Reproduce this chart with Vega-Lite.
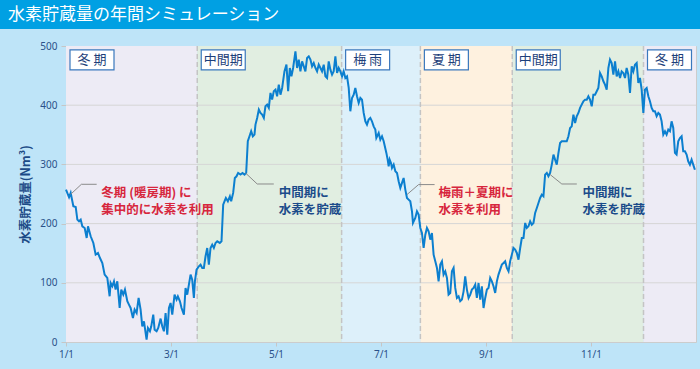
{
  "$schema": "https://vega.github.io/schema/vega-lite/v6.json",
  "background": "#BEE4F8",
  "padding": {"left": 0, "top": 0, "right": 0, "bottom": 9},
  "spacing": 11,
  "config": {
    "font": "Noto Sans CJK JP",
    "view": {"stroke": null},
    "axisX": {"grid": false, "domain": false, "ticks": true, "tickSize": 4, "tickColor": "#c6c6c6", "labelColor": "#2a5189", "labelFontSize": 10, "labelPadding": 3, "labelFont": "Noto Sans", "labelFlush": false},
    "axisY": {"grid": false, "domain": false, "ticks": true, "tickSize": 5, "tickColor": "#c6c6c6", "labelColor": "#2a5189", "labelFontSize": 10, "labelPadding": 4, "labelFont": "Noto Sans", "labelFlush": false, "titleFontSize": 12.5, "titleFontWeight": "bold", "titleColor": "#1c4b87", "titlePadding": 7, "titleFont": "Noto Sans CJK JP"}
  },
  "datasets": {
    "periods": [
      {"name": "冬 期", "kind": "winter", "start": 0, "end": 2.5},
      {"name": "中間期", "kind": "mid", "start": 2.5, "end": 5.25},
      {"name": "梅 雨", "kind": "rainy", "start": 5.25, "end": 6.75},
      {"name": "夏 期", "kind": "summer", "start": 6.75, "end": 8.5},
      {"name": "中間期", "kind": "mid", "start": 8.5, "end": 11},
      {"name": "冬 期", "kind": "winter", "start": 11, "end": 12}
    ],
    "grid": [{"g": 100}, {"g": 200}, {"g": 300}, {"g": 400}],
    "notes": [
      {"m": 0.673, "v": 252.4, "kind": "use", "lines": ["冬期 (暖房期) に", "集中的に水素を利用"]},
      {"m": 4.053, "v": 252.5, "kind": "store", "lines": ["中間期に", "水素を貯蔵"]},
      {"m": 7.097, "v": 252.4, "kind": "use", "lines": ["梅雨＋夏期に", "水素を利用"]},
      {"m": 9.836, "v": 252.5, "kind": "store", "lines": ["中間期に", "水素を貯蔵"]}
    ],
    "leaders": [
      {"id": 1, "m": 0.089, "v": 249.5}, {"id": 1, "m": 0.293, "v": 266.4}, {"id": 1, "m": 0.584, "v": 266.4},
      {"id": 2, "m": 3.419, "v": 285.5}, {"id": 2, "m": 3.642, "v": 266.9}, {"id": 2, "m": 3.958, "v": 266.9},
      {"id": 3, "m": 6.495, "v": 249.0}, {"id": 3, "m": 6.716, "v": 265.9}, {"id": 3, "m": 7.021, "v": 265.9},
      {"id": 4, "m": 9.222, "v": 282.8}, {"id": 4, "m": 9.444, "v": 266.9}, {"id": 4, "m": 9.730, "v": 266.9}
    ],
    "series": [
      {"m":0,"v":257.4},{"m":0.058,"v":244.4},{"m":0.089,"v":251.8},{"m":0.14,"v":229.2},{"m":0.185,"v":228.1},{"m":0.216,"v":206.7},{"m":0.248,"v":203.9},{"m":0.28,"v":206.7},{"m":0.311,"v":195.4},{"m":0.356,"v":192.6},{"m":0.394,"v":175.7},{"m":0.419,"v":195.4},{"m":0.47,"v":178.6},{"m":0.521,"v":167.3},{"m":0.565,"v":147.6},{"m":0.609,"v":150.4},{"m":0.647,"v":141.9},{"m":0.692,"v":133.5},{"m":0.736,"v":113.8},{"m":0.787,"v":108.2},{"m":0.831,"v":77.2},{"m":0.85,"v":99.7},{"m":0.882,"v":94.1},{"m":0.914,"v":102.5},{"m":0.945,"v":88.5},{"m":0.977,"v":102.5},{"m":1.022,"v":57.5},{"m":1.053,"v":88.5},{"m":1.091,"v":80},{"m":1.123,"v":88.5},{"m":1.168,"v":68.8},{"m":1.199,"v":63.1},{"m":1.231,"v":57.5},{"m":1.275,"v":40.6},{"m":1.307,"v":54.7},{"m":1.345,"v":49},{"m":1.383,"v":74.4},{"m":1.421,"v":54.7},{"m":1.453,"v":26.5},{"m":1.485,"v":34.9},{"m":1.535,"v":4},{"m":1.561,"v":23.7},{"m":1.599,"v":18.1},{"m":1.624,"v":26.5},{"m":1.662,"v":46.2},{"m":1.688,"v":20.9},{"m":1.726,"v":18.1},{"m":1.757,"v":23.7},{"m":1.802,"v":39.5},{"m":1.833,"v":26.5},{"m":1.865,"v":18.1},{"m":1.897,"v":49},{"m":1.929,"v":12.4},{"m":1.961,"v":57.5},{"m":1.992,"v":65.9},{"m":2.024,"v":46.2},{"m":2.068,"v":80},{"m":2.106,"v":71.6},{"m":2.131,"v":77.2},{"m":2.17,"v":68.8},{"m":2.201,"v":57.5},{"m":2.246,"v":46.2},{"m":2.277,"v":91.3},{"m":2.309,"v":80},{"m":2.341,"v":96.9},{"m":2.373,"v":113.8},{"m":2.404,"v":105.4},{"m":2.436,"v":74.4},{"m":2.455,"v":102.5},{"m":2.487,"v":122.2},{"m":2.531,"v":127.9},{"m":2.563,"v":130.7},{"m":2.595,"v":125.1},{"m":2.626,"v":125.1},{"m":2.658,"v":144.8},{"m":2.69,"v":158.8},{"m":2.721,"v":130.7},{"m":2.753,"v":158.8},{"m":2.785,"v":164.4},{"m":2.816,"v":158.8},{"m":2.848,"v":167.3},{"m":2.88,"v":170.1},{"m":2.93,"v":167.3},{"m":2.962,"v":170.1},{"m":2.994,"v":232},{"m":3.019,"v":237.7},{"m":3.045,"v":243.3},{"m":3.083,"v":237.7},{"m":3.121,"v":246.1},{"m":3.146,"v":237.7},{"m":3.184,"v":251.8},{"m":3.216,"v":277.1},{"m":3.248,"v":279.9},{"m":3.279,"v":285.6},{"m":3.324,"v":282.8},{"m":3.362,"v":285.6},{"m":3.4,"v":282.8},{"m":3.432,"v":285.6},{"m":3.463,"v":339.1},{"m":3.495,"v":347.5},{"m":3.527,"v":356},{"m":3.559,"v":347.5},{"m":3.59,"v":350.3},{"m":3.609,"v":367.2},{"m":3.641,"v":378.5},{"m":3.673,"v":392.6},{"m":3.704,"v":386.9},{"m":3.736,"v":384.1},{"m":3.768,"v":378.5},{"m":3.799,"v":398.2},{"m":3.831,"v":401},{"m":3.863,"v":395.4},{"m":3.895,"v":420.7},{"m":3.926,"v":409.4},{"m":3.958,"v":423.5},{"m":3.99,"v":426.3},{"m":4.021,"v":415},{"m":4.053,"v":434.7},{"m":4.085,"v":417.8},{"m":4.117,"v":429.1},{"m":4.161,"v":457.2},{"m":4.199,"v":468.5},{"m":4.231,"v":423.5},{"m":4.263,"v":462.9},{"m":4.294,"v":448.8},{"m":4.326,"v":462.9},{"m":4.37,"v":491.1},{"m":4.402,"v":462.9},{"m":4.434,"v":477},{"m":4.465,"v":457.2},{"m":4.497,"v":474.1},{"m":4.529,"v":465.7},{"m":4.56,"v":457.2},{"m":4.592,"v":479.8},{"m":4.624,"v":482.6},{"m":4.656,"v":477},{"m":4.687,"v":465.7},{"m":4.719,"v":471.3},{"m":4.751,"v":462.9},{"m":4.782,"v":457.2},{"m":4.814,"v":468.5},{"m":4.846,"v":462.9},{"m":4.877,"v":457.2},{"m":4.909,"v":468.5},{"m":4.941,"v":448.8},{"m":4.973,"v":446},{"m":5.004,"v":474.1},{"m":5.036,"v":460},{"m":5.068,"v":451.6},{"m":5.099,"v":457.2},{"m":5.131,"v":482.6},{"m":5.163,"v":454.4},{"m":5.194,"v":462.9},{"m":5.226,"v":457.2},{"m":5.258,"v":448.8},{"m":5.289,"v":457.2},{"m":5.321,"v":446},{"m":5.353,"v":448.8},{"m":5.385,"v":429.1},{"m":5.416,"v":389.7},{"m":5.448,"v":412.2},{"m":5.48,"v":417.8},{"m":5.511,"v":429.1},{"m":5.543,"v":415},{"m":5.575,"v":403.8},{"m":5.607,"v":412.2},{"m":5.638,"v":409.4},{"m":5.67,"v":386.9},{"m":5.702,"v":372.8},{"m":5.733,"v":367.2},{"m":5.765,"v":375.6},{"m":5.797,"v":378.5},{"m":5.828,"v":372.8},{"m":5.86,"v":364.3},{"m":5.892,"v":358.7},{"m":5.911,"v":344.6},{"m":5.956,"v":353.1},{"m":5.987,"v":341.8},{"m":6.019,"v":347.5},{"m":6.051,"v":339.1},{"m":6.102,"v":319.4},{"m":6.127,"v":308.1},{"m":6.146,"v":296.8},{"m":6.165,"v":308.1},{"m":6.19,"v":302.5},{"m":6.209,"v":294.1},{"m":6.241,"v":299.7},{"m":6.273,"v":288.4},{"m":6.305,"v":285.6},{"m":6.336,"v":271.5},{"m":6.368,"v":260.2},{"m":6.4,"v":268.7},{"m":6.431,"v":277.1},{"m":6.463,"v":257.4},{"m":6.495,"v":243.3},{"m":6.526,"v":240.5},{"m":6.558,"v":237.7},{"m":6.59,"v":220.8},{"m":6.609,"v":201.1},{"m":6.653,"v":209.5},{"m":6.685,"v":220.8},{"m":6.717,"v":215.1},{"m":6.749,"v":192.6},{"m":6.78,"v":184.1},{"m":6.812,"v":158.8},{"m":6.844,"v":181.3},{"m":6.875,"v":192.6},{"m":6.907,"v":186.9},{"m":6.939,"v":172.9},{"m":6.97,"v":184.1},{"m":7.002,"v":147.6},{"m":7.034,"v":136.3},{"m":7.066,"v":125.1},{"m":7.097,"v":102.5},{"m":7.129,"v":130.7},{"m":7.161,"v":136.3},{"m":7.192,"v":113.8},{"m":7.224,"v":119.4},{"m":7.256,"v":108.2},{"m":7.287,"v":80},{"m":7.319,"v":82.8},{"m":7.351,"v":119.4},{"m":7.383,"v":125.1},{"m":7.414,"v":91.3},{"m":7.446,"v":74.4},{"m":7.478,"v":77.2},{"m":7.509,"v":68.8},{"m":7.541,"v":71.6},{"m":7.573,"v":85.6},{"m":7.604,"v":110.9},{"m":7.636,"v":88.5},{"m":7.668,"v":74.4},{"m":7.7,"v":80},{"m":7.731,"v":88.5},{"m":7.763,"v":91.3},{"m":7.795,"v":96.9},{"m":7.826,"v":74.4},{"m":7.858,"v":99.7},{"m":7.89,"v":71.6},{"m":7.921,"v":94.1},{"m":7.953,"v":57.5},{"m":7.985,"v":74.4},{"m":8.017,"v":88.5},{"m":8.048,"v":91.3},{"m":8.08,"v":108.2},{"m":8.112,"v":102.5},{"m":8.143,"v":94.1},{"m":8.175,"v":82.8},{"m":8.207,"v":102.5},{"m":8.238,"v":113.8},{"m":8.27,"v":122.2},{"m":8.302,"v":130.7},{"m":8.334,"v":133.5},{"m":8.365,"v":136.3},{"m":8.397,"v":125.1},{"m":8.429,"v":119.4},{"m":8.46,"v":136.3},{"m":8.492,"v":147.6},{"m":8.524,"v":158.8},{"m":8.555,"v":156},{"m":8.587,"v":150.4},{"m":8.619,"v":139.1},{"m":8.651,"v":158.8},{"m":8.682,"v":175.7},{"m":8.714,"v":175.7},{"m":8.746,"v":201.1},{"m":8.777,"v":192.6},{"m":8.809,"v":195.4},{"m":8.841,"v":203.9},{"m":8.872,"v":198.2},{"m":8.904,"v":201.1},{"m":8.936,"v":218},{"m":8.968,"v":226.4},{"m":8.999,"v":234.9},{"m":9.031,"v":243.3},{"m":9.063,"v":248.9},{"m":9.094,"v":246.1},{"m":9.126,"v":282.8},{"m":9.158,"v":285.6},{"m":9.189,"v":279.9},{"m":9.221,"v":285.6},{"m":9.253,"v":299.7},{"m":9.285,"v":316.5},{"m":9.316,"v":308.1},{"m":9.348,"v":299.7},{"m":9.38,"v":319.4},{"m":9.411,"v":336.2},{"m":9.443,"v":339.1},{"m":9.475,"v":339.1},{"m":9.506,"v":339.1},{"m":9.538,"v":339.1},{"m":9.57,"v":347.5},{"m":9.602,"v":361.5},{"m":9.633,"v":364.3},{"m":9.665,"v":384.1},{"m":9.697,"v":370},{"m":9.728,"v":381.3},{"m":9.76,"v":386.9},{"m":9.792,"v":395.4},{"m":9.823,"v":401},{"m":9.855,"v":406.6},{"m":9.887,"v":409.4},{"m":9.919,"v":409.4},{"m":9.95,"v":415},{"m":9.982,"v":409.4},{"m":10.014,"v":398.2},{"m":10.045,"v":417.8},{"m":10.077,"v":417.8},{"m":10.109,"v":423.5},{"m":10.14,"v":429.1},{"m":10.172,"v":454.4},{"m":10.204,"v":448.8},{"m":10.236,"v":440.4},{"m":10.267,"v":434.7},{"m":10.299,"v":426.3},{"m":10.331,"v":462.9},{"m":10.362,"v":477},{"m":10.394,"v":471.3},{"m":10.426,"v":451.6},{"m":10.458,"v":474.1},{"m":10.489,"v":448.8},{"m":10.521,"v":457.2},{"m":10.553,"v":446},{"m":10.584,"v":457.2},{"m":10.616,"v":454.4},{"m":10.648,"v":446},{"m":10.679,"v":462.9},{"m":10.711,"v":451.6},{"m":10.743,"v":420.7},{"m":10.775,"v":465.7},{"m":10.806,"v":457.2},{"m":10.838,"v":468.5},{"m":10.87,"v":471.3},{"m":10.901,"v":437.5},{"m":10.933,"v":446},{"m":10.965,"v":426.3},{"m":10.997,"v":386.9},{"m":11.028,"v":426.3},{"m":11.06,"v":429.1},{"m":11.092,"v":415},{"m":11.123,"v":406.6},{"m":11.155,"v":395.4},{"m":11.187,"v":389.7},{"m":11.218,"v":389.7},{"m":11.25,"v":381.3},{"m":11.282,"v":386.9},{"m":11.313,"v":384.1},{"m":11.345,"v":372.8},{"m":11.377,"v":350.3},{"m":11.409,"v":356},{"m":11.44,"v":350.3},{"m":11.472,"v":358.7},{"m":11.504,"v":356},{"m":11.535,"v":372.8},{"m":11.567,"v":361.5},{"m":11.599,"v":319.4},{"m":11.63,"v":316.5},{"m":11.662,"v":339.1},{"m":11.694,"v":344.6},{"m":11.726,"v":347.5},{"m":11.757,"v":322.2},{"m":11.789,"v":322.2},{"m":11.821,"v":316.5},{"m":11.852,"v":305.2},{"m":11.884,"v":299.6},{"m":11.916,"v":308.1},{"m":11.947,"v":299.6},{"m":11.979,"v":290.9}
    ]
  },
  "vconcat": [
    {
      "width": 700,
      "height": 29,
      "view": {"fill": "#00A0E3", "stroke": null},
      "data": {"values": [{"t": "水素貯蔵量の年間シミュレーション"}]},
      "mark": {"type": "text", "align": "left", "baseline": "middle", "color": "#ffffff", "fontSize": 17, "x": 8, "y": 15},
      "encoding": {"text": {"field": "t", "type": "nominal"}}
    },
    {
      "spacing": 0,
      "hconcat": [
        {"width": 19, "height": 296, "data": {"values": []}, "mark": "rect", "encoding": {}},
        {
          "width": 630,
          "height": 296,
          "view": {"stroke": "#cccccc", "strokeWidth": 1},
          "resolve": {"scale": {"color": "independent"}},
          "layer": [
            {
              "data": {"name": "periods"},
              "mark": {"type": "rect"},
              "encoding": {
                "x": {"field": "start", "type": "quantitative", "scale": {"domain": [0, 12], "nice": false, "zero": false},
                  "axis": {"values": [0, 2, 4, 6, 8, 10], "labelExpr": "(datum.value + 1) + '/1'", "title": null}},
                "x2": {"field": "end"},
                "color": {"field": "kind", "type": "nominal", "scale": {"domain": ["winter", "mid", "rainy", "summer"], "range": ["#EDEBF5", "#E1EEE1", "#DDF0FA", "#FEF1DF"]}, "legend": null}
              }
            },
            {
              "data": {"name": "grid"},
              "mark": {"type": "rule", "color": "#d6d6d6", "strokeWidth": 1},
              "encoding": {"y": {"field": "g", "type": "quantitative", "scale": {"domain": [0, 500], "nice": false},
                "axis": {"values": [0, 100, 200, 300, 400, 500], "title": "水素貯蔵量(Nm³)"}}}
            },
            {
              "data": {"name": "periods"},
              "transform": [{"filter": "datum.start > 0"}],
              "mark": {"type": "rule", "color": "#c4c4c4", "strokeWidth": 1.5, "strokeDash": [5, 3]},
              "encoding": {"x": {"field": "start", "type": "quantitative",
                "axis": {"values": [0, 2, 4, 6, 8, 10], "labelExpr": "(datum.value + 1) + '/1'", "title": null}}}
            },
            {
              "data": {"name": "periods"},
              "mark": {"type": "rect", "fill": "#ffffff", "stroke": "#3a78bd", "strokeWidth": 1.2, "xOffset": 4, "x2Offset": 48},
              "encoding": {
                "x": {"field": "start", "type": "quantitative",
                  "axis": {"values": [0, 2, 4, 6, 8, 10], "labelExpr": "(datum.value + 1) + '/1'", "title": null}},
                "x2": {"field": "start"},
                "y": {"datum": 493.6, "type": "quantitative",
                  "axis": {"values": [0, 100, 200, 300, 400, 500], "title": "水素貯蔵量(Nm³)"}},
                "y2": {"datum": 459.8}
              }
            },
            {
              "data": {"name": "periods"},
              "mark": {"type": "text", "align": "center", "baseline": "middle", "dx": 26, "fontSize": 13, "color": "#1d3f7a"},
              "encoding": {
                "x": {"field": "start", "type": "quantitative",
                  "axis": {"values": [0, 2, 4, 6, 8, 10], "labelExpr": "(datum.value + 1) + '/1'", "title": null}},
                "y": {"datum": 476.7, "type": "quantitative",
                  "axis": {"values": [0, 100, 200, 300, 400, 500], "title": "水素貯蔵量(Nm³)"}},
                "text": {"field": "name", "type": "nominal"}
              }
            },
            {
              "data": {"name": "series"},
              "mark": {"type": "line", "color": "#0c7fcf", "strokeWidth": 2},
              "encoding": {
                "x": {"field": "m", "type": "quantitative",
                  "axis": {"values": [0, 2, 4, 6, 8, 10], "labelExpr": "(datum.value + 1) + '/1'", "title": null}},
                "y": {"field": "v", "type": "quantitative",
                  "axis": {"values": [0, 100, 200, 300, 400, 500], "title": "水素貯蔵量(Nm³)"}}
              }
            },
            {
              "data": {"name": "leaders"},
              "mark": {"type": "line", "color": "#8a8a8a", "strokeWidth": 1},
              "encoding": {
                "x": {"field": "m", "type": "quantitative",
                  "axis": {"values": [0, 2, 4, 6, 8, 10], "labelExpr": "(datum.value + 1) + '/1'", "title": null}},
                "y": {"field": "v", "type": "quantitative",
                  "axis": {"values": [0, 100, 200, 300, 400, 500], "title": "水素貯蔵量(Nm³)"}},
                "detail": {"field": "id", "type": "nominal"}
              }
            },
            {
              "data": {"name": "notes"},
              "mark": {"type": "text", "align": "left", "baseline": "middle", "fontSize": 12.5, "fontWeight": "bold", "lineHeight": 17.5},
              "encoding": {
                "x": {"field": "m", "type": "quantitative",
                  "axis": {"values": [0, 2, 4, 6, 8, 10], "labelExpr": "(datum.value + 1) + '/1'", "title": null}},
                "y": {"field": "v", "type": "quantitative",
                  "axis": {"values": [0, 100, 200, 300, 400, 500], "title": "水素貯蔵量(Nm³)"}},
                "text": {"field": "lines", "type": "nominal"},
                "color": {"field": "kind", "type": "nominal", "scale": {"domain": ["use", "store"], "range": ["#D7263D", "#1B4B8A"]}, "legend": null}
              }
            }
          ]
        }
      ]
    }
  ]
}
